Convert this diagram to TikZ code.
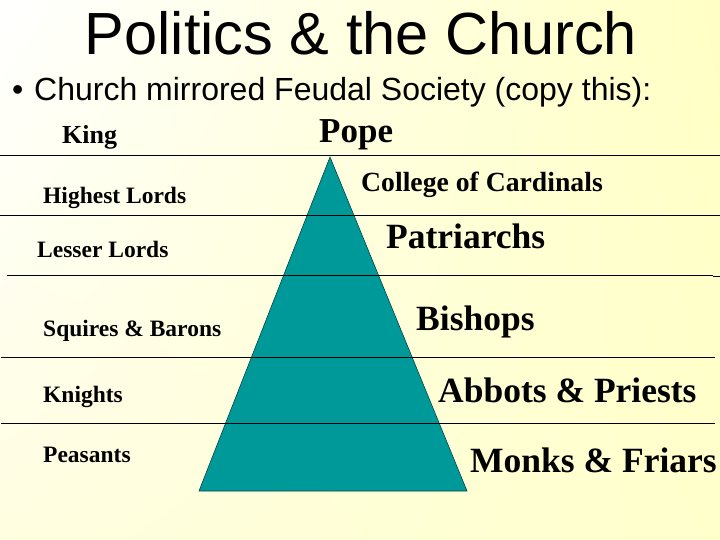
\documentclass[tikz,border=0pt]{standalone}
\usepackage{fontspec}
\usetikzlibrary{shadings}
\setmainfont{Liberation Serif}
\newfontfamily\arialf{Liberation Sans}
\definecolor{teal1}{HTML}{009999}
\definecolor{bgA}{HTML}{FFFFFF}
\definecolor{bgB}{HTML}{FFFFC4}
\definecolor{bgC}{HTML}{FFFEE0}
\definecolor{bgD}{HTML}{FFFFCC}
\tikzset{
  lbl/.style={anchor=base west, inner sep=0pt, font=\bfseries\fontsize{23.5}{26}\selectfont},
  rlbl/.style={anchor=base west, inner sep=0pt, font=\bfseries\fontsize{35.5}{38}\selectfont},
  rule/.style={draw=black, line width=1pt},
}
\begin{document}
\begin{tikzpicture}[x=1pt,y=-1pt]
\useasboundingbox (0,0) rectangle (720,540);
\shade[upper left=bgA, upper right=bgB, lower left=bgC, lower right=bgD] (0,0) rectangle (720,540);
% pyramid
\filldraw[fill=teal1, draw=teal1!45!black, line width=0.6pt] (330,157) -- (467,491) -- (199,491) -- cycle;
% rules
\draw[rule] (0,156) -- (720,156);
\draw[rule] (0,216) -- (720,216);
\draw[rule] (7,275) -- (713,275);
\draw[rule] (713,276) -- (720,276);
\draw[rule] (1,357) -- (715,357);
\draw[rule] (1,423) -- (715,423);
% title
\node[anchor=base, inner sep=0pt, font=\arialf\fontsize{59.5}{62}\selectfont] (title) at (361,55) {Politics \& the Church};
\node[anchor=base west, inner sep=0pt, font=\arialf\fontsize{32}{34}\selectfont] (bul) at (12,101) {•};
\node[anchor=base west, inner sep=0pt, font=\arialf\fontsize{32}{34}\selectfont] (sub) at (34,101) {Church mirrored Feudal Society (copy this):};
% left labels
\node[lbl, font=\bfseries\fontsize{26}{28}\selectfont] (king) at (62,144) {King};
\node[lbl] (hl) at (43,204) {Highest Lords};
\node[lbl] (ll) at (37,258) {Lesser Lords};
\node[lbl] (sb) at (43,336) {Squires \& Barons};
\node[lbl] (kn) at (43,402) {Knights};
\node[lbl] (pe) at (43,462) {Peasants};
% right labels
\node[rlbl, font=\bfseries\fontsize{35}{38}\selectfont] (pope) at (319,143) {Pope};
\node[rlbl, font=\bfseries\fontsize{27.7}{30}\selectfont] (cc) at (361,192) {College of Cardinals};
\node[rlbl] (pa) at (386,248) {Patriarchs};
\node[rlbl] (bi) at (416,330) {Bishops};
\node[rlbl] (ap) at (438,402) {Abbots \& Priests};
\node[rlbl] (mf) at (470,472) {Monks \& Friars};
\end{tikzpicture}
\end{document}
